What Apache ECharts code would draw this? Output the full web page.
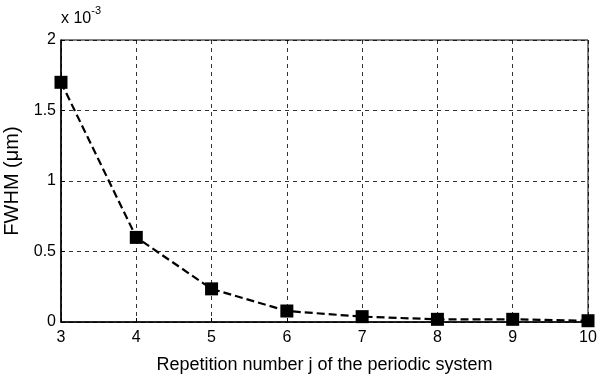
<!DOCTYPE html>
<html>
<head>
<meta charset="utf-8">
<script src="https://cdn.jsdelivr.net/npm/echarts@6/dist/echarts.min.js"></script>
<style>
  html, body { margin: 0; padding: 0; background: #fff; }
  #chart { width: 597px; height: 379px; }
</style>
</head>
<body>
<div id="chart"></div>
<script>
// repetition number j
const reps = [3, 4, 5, 6, 7, 8, 9, 10]
// FWHM in units of 1e-3 um
const fwhm = [1.70, 0.60, 0.235, 0.078, 0.038, 0.019, 0.019, 0.009]

const font = 'Liberation Sans, Arial, sans-serif'

const chart = echarts.init(document.getElementById('chart'))
chart.setOption({
    animation: false,
    backgroundColor: '#fff',
    grid: {
        left: 61, top: 40, right: 9, bottom: 57,
        outerBoundsMode: 'none',
        show: true, borderColor: '#000', borderWidth: 1
    },
    xAxis: {
        type: 'value', min: 3, max: 10, interval: 1,
        name: 'Repetition number j of the periodic system',
        nameLocation: 'middle', nameGap: 34,
        nameTextStyle: { color: '#000', fontSize: 18, fontFamily: font },
        axisLine: { lineStyle: { color: '#000', width: 1.5 } },
        axisTick: { inside: true, length: 4, lineStyle: { color: '#000' } },
        axisLabel: { color: '#000', fontSize: 16, fontFamily: font, margin: 8 },
        splitLine: { show: true, lineStyle: { color: '#000', type: [4, 4], width: 0.8 } }
    },
    yAxis: {
        type: 'value', min: 0, max: 2, interval: 0.5,
        name: 'FWHM (\u03bcm)',
        nameLocation: 'middle', nameGap: 36,
        nameTextStyle: { color: '#000', fontSize: 20, fontFamily: font },
        axisLine: { lineStyle: { color: '#000', width: 1.5 } },
        axisTick: { inside: true, length: 4, lineStyle: { color: '#000' } },
        axisLabel: { color: '#000', fontSize: 16, fontFamily: font, margin: 5 },
        splitLine: { show: true, lineStyle: { color: '#000', type: [4, 4], width: 0.8 } }
    },
    graphic: [{
        type: 'text', left: 61, top: 5,
        style: {
            text: '{a|x 10}{b|-3}',
            rich: {
                a: { fontSize: 16, fontFamily: font, fill: '#000', padding: [9, 0, 0, 0] },
                b: { fontSize: 11, fontFamily: font, fill: '#000', padding: [0, 0, 8, 0] }
            }
        }
    }],
    series: [{
        type: 'line',
        data: reps.map((r, i) => [r, fwhm[i]]),
        symbol: 'rect', symbolSize: 13,
        itemStyle: { color: '#000' },
        lineStyle: { color: '#000', width: 2.2, type: [8, 4] }
    }]
})
</script>
</body>
</html>
